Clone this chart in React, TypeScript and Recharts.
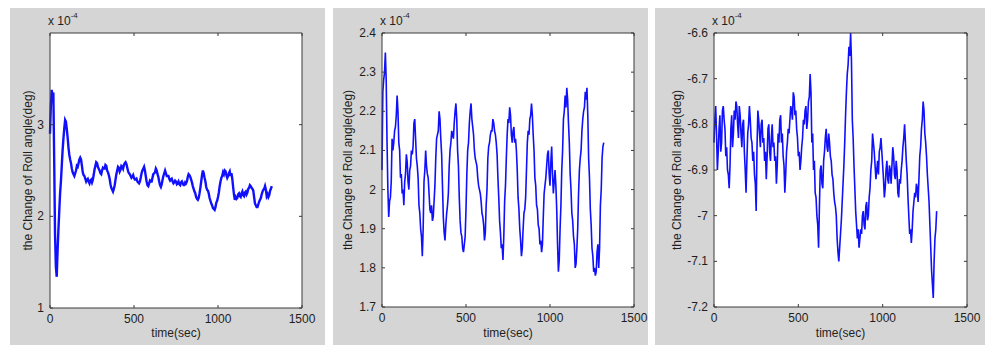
import React from 'react';
import { LineChart, Line, XAxis, YAxis, CartesianGrid } from 'recharts';

// time samples (sec)
const timeSec = [
  0, 10, 20, 30, 40, 50, 60, 70, 80, 90,
  100, 110, 120, 130, 140, 150, 160, 170, 180, 190,
  200, 210, 220, 230, 240, 250, 260, 270, 280, 290,
  300, 310, 320, 330, 340, 350, 360, 370, 380, 390,
  400, 410, 420, 430, 440, 450, 460, 470, 480, 490,
  500, 510, 520, 530, 540, 550, 560, 570, 580, 590,
  600, 610, 620, 630, 640, 650, 660, 670, 680, 690,
  700, 710, 720, 730, 740, 750, 760, 770, 780, 790,
  800, 810, 820, 830, 840, 850, 860, 870, 880, 890,
  900, 910, 920, 930, 940, 950, 960, 970, 980, 990,
  1000, 1010, 1020, 1030, 1040, 1050, 1060, 1070, 1080, 1090,
  1100, 1110, 1120, 1130, 1140, 1150, 1160, 1170, 1180, 1190,
  1200, 1210, 1220, 1230, 1240, 1250, 1260, 1270, 1280, 1290,
  1300, 1310, 1320,
];

// in-between samples (sec)
const midTimeSec = [
  5, 15, 25, 35, 45, 55, 65, 75, 85, 95,
  105, 115, 125, 135, 145, 155, 165, 175, 185, 195,
  205, 215, 225, 235, 245, 255, 265, 275, 285, 295,
  305, 315, 325, 335, 345, 355, 365, 375, 385, 395,
  405, 415, 425, 435, 445, 455, 465, 475, 485, 495,
  505, 515, 525, 535, 545, 555, 565, 575, 585, 595,
  605, 615, 625, 635, 645, 655, 665, 675, 685, 695,
  705, 715, 725, 735, 745, 755, 765, 775, 785, 795,
  805, 815, 825, 835, 845, 855, 865, 875, 885, 895,
  905, 915, 925, 935, 945, 955, 965, 975, 985, 995,
  1005, 1015, 1025, 1035, 1045, 1055, 1065, 1075, 1085, 1095,
  1105, 1115, 1125, 1135, 1145, 1155, 1165, 1175, 1185, 1195,
  1205, 1215, 1225, 1235, 1245, 1255, 1265, 1275, 1285, 1295,
  1305, 1315,
];

// roll angle change, x 10^-4 deg
const rollChange1 = [
  2.90, 3.38, 3.35, 1.80, 1.34, 1.85, 2.25, 2.55, 2.85, 3.05,
  2.95, 2.75, 2.62, 2.52, 2.46, 2.47, 2.55, 2.58, 2.64, 2.55,
  2.45, 2.41, 2.40, 2.38, 2.39, 2.37, 2.45, 2.55, 2.58, 2.52,
  2.47, 2.50, 2.52, 2.56, 2.50, 2.45, 2.35, 2.29, 2.30, 2.40,
  2.50, 2.53, 2.51, 2.54, 2.56, 2.59, 2.53, 2.47, 2.44, 2.43,
  2.42, 2.40, 2.38, 2.36, 2.42, 2.50, 2.54, 2.44, 2.34, 2.36,
  2.38, 2.42, 2.47, 2.52, 2.46, 2.38, 2.32, 2.40, 2.47, 2.47,
  2.44, 2.41, 2.40, 2.38, 2.37, 2.38, 2.36, 2.35, 2.37, 2.36,
  2.34, 2.36, 2.43, 2.45, 2.40, 2.33, 2.27, 2.21, 2.18, 2.25,
  2.38, 2.50, 2.42, 2.32, 2.28, 2.20, 2.14, 2.09, 2.07, 2.15,
  2.21, 2.33, 2.42, 2.48, 2.50, 2.45, 2.44, 2.49, 2.47, 2.32,
  2.18, 2.19, 2.24, 2.22, 2.25, 2.23, 2.26, 2.24, 2.30, 2.34,
  2.31, 2.28, 2.14, 2.10, 2.13, 2.18, 2.24, 2.29, 2.33, 2.22,
  2.21, 2.28, 2.33,
];
const rollChange1Mid = [
  3.20, 3.32, 2.60, 1.45, 1.62, 2.05, 2.38, 2.72, 2.96, 3.03,
  2.86, 2.67, 2.58, 2.48, 2.44, 2.50, 2.54, 2.62, 2.62, 2.48,
  2.44, 2.38, 2.41, 2.36, 2.40, 2.40, 2.51, 2.59, 2.54, 2.50,
  2.46, 2.53, 2.52, 2.55, 2.48, 2.41, 2.31, 2.27, 2.34, 2.46,
  2.54, 2.49, 2.55, 2.52, 2.58, 2.57, 2.49, 2.46, 2.42, 2.45,
  2.40, 2.41, 2.37, 2.38, 2.47, 2.52, 2.50, 2.38, 2.33, 2.39,
  2.38, 2.46, 2.48, 2.50, 2.43, 2.34, 2.35, 2.44, 2.50, 2.44,
  2.44, 2.39, 2.41, 2.36, 2.39, 2.35, 2.38, 2.34, 2.38, 2.34,
  2.37, 2.38, 2.46, 2.43, 2.37, 2.30, 2.25, 2.19, 2.20, 2.31,
  2.45, 2.47, 2.38, 2.29, 2.25, 2.17, 2.12, 2.08, 2.10, 2.17,
  2.26, 2.38, 2.44, 2.46, 2.49, 2.42, 2.47, 2.44, 2.41, 2.24,
  2.21, 2.20, 2.25, 2.21, 2.27, 2.22, 2.27, 2.26, 2.31, 2.33,
  2.30, 2.21, 2.12, 2.10, 2.16, 2.20, 2.27, 2.30, 2.29, 2.24,
  2.23, 2.30,
];

const rollChange2 = [
  2.05, 2.28, 2.35, 2.12, 1.93, 1.98, 2.13, 2.12, 2.16, 2.24,
  2.12, 2.03, 1.99, 1.96, 2.04, 2.07, 2.00, 2.06, 2.09, 2.17,
  2.13, 2.06, 1.96, 1.90, 1.83, 2.02, 2.10, 2.04, 1.99, 1.94,
  1.92, 1.97, 2.08, 2.14, 2.20, 2.13, 2.01, 1.89, 1.91, 1.96,
  2.06, 2.12, 2.14, 2.17, 2.22, 2.10, 1.98, 1.89, 1.85, 1.86,
  1.95, 2.10, 2.17, 2.22, 2.16, 2.10, 2.07, 2.03, 2.00, 1.97,
  1.93, 1.87, 1.96, 2.08, 2.12, 2.15, 2.18, 2.15, 2.12, 2.03,
  1.92, 1.85, 1.82, 1.97, 2.08, 2.18, 2.21, 2.14, 2.15, 2.12,
  2.10, 1.98, 1.90, 1.83, 1.90, 1.95, 2.05, 2.15, 2.18, 2.22,
  2.14, 2.03, 1.96, 1.91, 1.86, 1.84, 1.93, 2.01, 2.06, 2.10,
  2.01, 2.11, 1.99, 2.05, 1.95, 1.79, 1.90, 2.05, 2.18, 2.24,
  2.26, 2.17, 2.04, 1.94, 1.88, 1.80, 1.85, 1.99, 2.08, 2.15,
  2.20, 2.25, 2.26, 2.08, 1.95, 1.85, 1.79, 1.78, 1.84, 1.80,
  1.96, 2.08, 2.12,
];
const rollChange2Mid = [
  2.25, 2.30, 2.28, 2.00, 1.97, 2.02, 2.10, 2.15, 2.19, 2.20,
  2.10, 2.04, 2.00, 2.02, 2.09, 2.02, 2.05, 2.10, 2.11, 2.18,
  2.08, 2.03, 1.94, 1.88, 1.90, 2.05, 2.06, 2.03, 1.95, 1.96,
  1.93, 2.01, 2.13, 2.15, 2.18, 2.09, 1.93, 1.87, 1.94, 1.99,
  2.10, 2.15, 2.13, 2.20, 2.18, 2.06, 1.92, 1.88, 1.84, 1.88,
  2.04, 2.12, 2.20, 2.18, 2.14, 2.08, 2.06, 2.01, 1.99, 1.94,
  1.91, 1.89, 2.00, 2.11, 2.14, 2.15, 2.17, 2.14, 2.09, 1.98,
  1.89, 1.86, 1.88, 2.01, 2.14, 2.17, 2.19, 2.12, 2.16, 2.13,
  2.05, 1.95, 1.87, 1.85, 1.94, 1.98, 2.12, 2.14, 2.19, 2.19,
  2.10, 2.01, 1.95, 1.90, 1.87, 1.86, 1.99, 2.03, 2.09, 2.04,
  2.07, 2.04, 2.02, 2.01, 1.86, 1.82, 1.96, 2.10, 2.20, 2.21,
  2.23, 2.12, 2.00, 1.92, 1.86, 1.81, 1.90, 2.05, 2.10, 2.18,
  2.21, 2.23, 2.19, 2.03, 1.91, 1.83, 1.80, 1.79, 1.86, 1.85,
  2.00, 2.11,
];

const rollChange3 = [
  -6.84, -6.76, -6.90, -6.81, -6.86, -6.77, -6.79, -6.87, -6.90, -6.94,
  -6.81, -6.85, -6.77, -6.75, -6.80, -6.76, -6.82, -6.80, -6.86, -6.95,
  -6.82, -6.76, -6.83, -6.88, -6.91, -6.99, -6.77, -6.82, -6.80, -6.84,
  -6.88, -6.92, -6.81, -6.86, -6.83, -6.85, -6.88, -6.93, -6.82, -6.79,
  -6.84, -6.87, -6.95, -6.86, -6.81, -6.79, -6.77, -6.73, -6.78, -6.81,
  -6.87, -6.90, -6.85, -6.79, -6.77, -6.81, -6.75, -6.69, -6.84, -6.90,
  -6.95, -7.00, -7.07, -6.90, -6.93, -6.88, -6.83, -6.85, -6.82, -6.87,
  -6.91, -6.95, -6.98, -7.05, -7.10, -7.04, -6.97, -6.89, -6.78, -6.69,
  -6.63, -6.60, -6.79, -6.89, -6.99, -7.05, -7.07, -7.03, -7.00, -7.02,
  -6.98, -7.01, -6.96, -6.90, -6.82, -6.86, -6.92, -6.88, -6.86, -6.83,
  -6.89, -6.96, -6.90, -6.92, -6.89, -6.93, -6.85, -6.91, -6.88, -6.95,
  -6.92, -6.90, -6.85, -6.80, -6.88, -6.96, -7.04, -7.06, -6.99, -6.95,
  -6.93, -6.97, -6.87, -6.81, -6.75, -6.82, -6.87, -6.94, -7.02, -7.12,
  -7.18, -7.05, -6.99,
];
const rollChange3Mid = [
  -6.79, -6.82, -6.86, -6.78, -6.84, -6.76, -6.81, -6.85, -6.91, -6.89,
  -6.78, -6.82, -6.79, -6.76, -6.83, -6.78, -6.85, -6.79, -6.90, -6.88,
  -6.80, -6.79, -6.84, -6.86, -6.93, -6.85, -6.79, -6.85, -6.79, -6.83,
  -6.86, -6.87, -6.80, -6.88, -6.80, -6.84, -6.87, -6.89, -6.84, -6.78,
  -6.82, -6.89, -6.91, -6.84, -6.82, -6.76, -6.79, -6.74, -6.77, -6.83,
  -6.86, -6.88, -6.83, -6.80, -6.76, -6.79, -6.74, -6.73, -6.82, -6.88,
  -6.96, -7.02, -6.98, -6.89, -6.94, -6.86, -6.81, -6.86, -6.84, -6.88,
  -6.92, -6.97, -7.00, -7.08, -7.07, -7.01, -6.93, -6.84, -6.73, -6.67,
  -6.65, -6.66, -6.83, -6.94, -7.02, -7.03, -7.05, -7.04, -6.99, -7.03,
  -6.97, -7.00, -6.94, -6.88, -6.84, -6.89, -6.90, -6.91, -6.85, -6.86,
  -6.92, -6.94, -6.88, -6.93, -6.90, -6.89, -6.87, -6.92, -6.90, -6.96,
  -6.93, -6.88, -6.83, -6.84, -6.91, -7.00, -7.03, -7.03, -6.97, -6.96,
  -6.94, -6.92, -6.85, -6.79, -6.77, -6.84, -6.91, -6.97, -7.07, -7.15,
  -7.10, -7.03,
];

const xTicks = [0, 500, 1000, 1500];
const yTicks1 = [1, 2, 3];
const yTicks2 = [1.7, 1.8, 1.9, 2, 2.1, 2.2, 2.3, 2.4];
const yTicks3 = [-7.2, -7.1, -7, -6.9, -6.8, -6.7, -6.6];
const yDomain1 = [1, 4];
const yDomain2 = [1.7, 2.4];
const yDomain3 = [-7.2, -6.6];
const xLabel = 'time(sec)';
const yLabel = 'the Change of Roll angle(deg)';
const expBase = 'x 10';
const expPow = '-4';

const FONT = '"Liberation Sans", Arial, Helvetica, sans-serif';
const TXT = '#1e1e1e';
const AX = '#3a3a3a';
const TL = 3;
const BLUE = '#1010ff';

const fmt = (v: number) => String(Math.round(v * 10) / 10);

function BottomTick(props: any) {
  const { x, y, payload } = props;
  return (
    <g>
      <line x1={x} y1={y} x2={x} y2={y - TL} stroke={AX} />
      <text x={x} y={y + 15} textAnchor="middle" fontSize={12} fontFamily={FONT} fill={TXT}>
        {payload.value}
      </text>
    </g>
  );
}

function TopTick(props: any) {
  const { x, y, payload } = props;
  return (
    <g>
      <line x1={x} y1={y} x2={x} y2={y + TL} stroke={AX} />
      {payload.value === 0 ? (
        <text x={x - 2} y={y - 8} fontSize={12} fontFamily={FONT} fill={TXT}>
          {expBase}
          <tspan dy={-7} fontSize={8}>{expPow}</tspan>
        </text>
      ) : null}
    </g>
  );
}

function LeftTick(props: any) {
  const { x, y, payload } = props;
  return (
    <g>
      <line x1={x} y1={y} x2={x + TL} y2={y} stroke={AX} />
      <text x={x - 6} y={y + 4} textAnchor="end" fontSize={12} fontFamily={FONT} fill={TXT}>
        {fmt(payload.value)}
      </text>
    </g>
  );
}

function RightTick(props: any) {
  const { x, y } = props;
  return <line x1={x} y1={y} x2={x - TL} y2={y} stroke={AX} />;
}

type PanelProps = {
  left: number;
  plotWidth: number;
  bottomH: number;
  values: number[];
  midValues: number[];
  yDomain: number[];
  yTicks: number[];
  labelOffset: number;
  strokeWidth: number;
};

function Panel({ left, plotWidth, bottomH, values, midValues, yDomain, yTicks, labelOffset, strokeWidth }: PanelProps) {
  const data: { t: number; v: number }[] = [];
  timeSec.forEach((t, i) => {
    data.push({ t, v: values[i] });
    if (i < midTimeSec.length) data.push({ t: midTimeSec[i], v: midValues[i] });
  });
  return (
    <div style={{ position: 'absolute', left, top: 0 }}>
      <LineChart
        width={plotWidth + 80}
        height={355}
        data={data}
        margin={{ top: 25, right: 22, bottom: 0, left: 0 }}
      >
        <CartesianGrid xAxisId="b" yAxisId="l" fill="#ffffff" stroke="none" />
        <XAxis
          xAxisId="b"
          dataKey="t"
          type="number"
          domain={[0, 1500]}
          ticks={xTicks}
          interval={0}
          height={bottomH}
          tickSize={0}
          tickMargin={0}
          tickLine={false}
          axisLine={{ stroke: AX }}
          tick={<BottomTick />}
          label={{
            value: xLabel,
            position: 'insideBottom',
            offset: 18,
            style: { fontSize: 12, fontFamily: FONT, fill: TXT },
          }}
        />
        <XAxis
          xAxisId="top"
          orientation="top"
          dataKey="t"
          type="number"
          domain={[0, 1500]}
          ticks={xTicks}
          interval={0}
          height={8}
          tickSize={0}
          tickMargin={0}
          tickLine={false}
          axisLine={{ stroke: AX }}
          tick={<TopTick />}
        />
        <YAxis
          yAxisId="l"
          type="number"
          domain={yDomain}
          ticks={yTicks}
          interval={0}
          allowDataOverflow
          width={50}
          tickSize={0}
          tickMargin={0}
          tickLine={false}
          axisLine={{ stroke: AX }}
          tick={<LeftTick />}
          label={{
            value: yLabel,
            angle: -90,
            position: 'insideLeft',
            offset: labelOffset,
            style: { textAnchor: 'middle', fontSize: 12, fontFamily: FONT, fill: TXT },
          }}
        />
        <YAxis
          yAxisId="r"
          orientation="right"
          type="number"
          domain={yDomain}
          ticks={yTicks}
          interval={0}
          allowDataOverflow
          width={8}
          tickSize={0}
          tickMargin={0}
          tickLine={false}
          axisLine={{ stroke: AX }}
          tick={<RightTick />}
        />
        <Line
          xAxisId="b"
          yAxisId="l"
          dataKey="v"
          type="linear"
          stroke={BLUE}
          strokeWidth={strokeWidth}
          dot={false}
          isAnimationActive={false}
        />
      </LineChart>
    </div>
  );
}

const GRAY = '#d5d5d5';

export default function App() {
  return (
    <div style={{ position: 'absolute', left: 0, top: 0, width: 995, height: 355, background: '#ffffff', overflow: 'hidden' }}>
      <div style={{ position: 'absolute', left: 10, top: 8, width: 315, height: 337, background: GRAY }} />
      <div style={{ position: 'absolute', left: 333, top: 8, width: 315, height: 337, background: GRAY }} />
      <div style={{ position: 'absolute', left: 655, top: 8, width: 330, height: 337, background: GRAY }} />
      <Panel left={0} plotWidth={252} bottomH={47} values={rollChange1} midValues={rollChange1Mid} yDomain={yDomain1} yTicks={yTicks1} labelOffset={28} strokeWidth={2.4} />
      <Panel left={332} plotWidth={252} bottomH={48} values={rollChange2} midValues={rollChange2Mid} yDomain={yDomain2} yTicks={yTicks2} labelOffset={16} strokeWidth={1.6} />
      <Panel left={664} plotWidth={253} bottomH={48} values={rollChange3} midValues={rollChange3Mid} yDomain={yDomain3} yTicks={yTicks3} labelOffset={13} strokeWidth={1.6} />
    </div>
  );
}
